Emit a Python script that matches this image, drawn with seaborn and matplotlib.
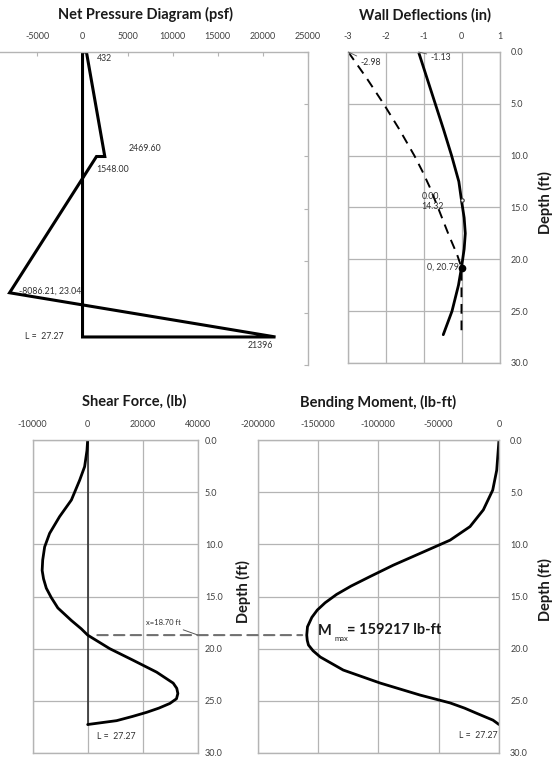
import matplotlib
matplotlib.use("Agg")
import matplotlib.pyplot as plt
from matplotlib.patches import ConnectionPatch
import seaborn as sns

# ---- net pressure diagram (psf vs depth ft) ----
pressure_psf = [0, 432, 2469.60, 1548.00, -8086.21, 21396, 0, 0]
pressure_depth = [0, 0, 10, 10, 23.04, 27.27, 27.27, 0]
pressure_ticks = [-5000, 0, 5000, 10000, 15000, 20000, 25000]

# ---- wall deflections (in) ----
defl_depth = [0, 2.5, 5, 7.5, 10, 12.5, 14.32, 16, 17.5, 19, 20.79, 22.5, 25, 27.27]
defl_in = [-1.13, -0.91, -0.69, -0.47, -0.26, -0.07, 0.0, 0.07, 0.10, 0.07, 0.0, -0.08, -0.25, -0.48]
defl2_depth = [0, 2.5, 5, 7.5, 10, 11.5, 13, 15, 17.7, 19.5, 20.79, 24, 27.27]
defl2_in = [-2.98, -2.50, -2.05, -1.63, -1.24, -1.03, -0.84, -0.62, -0.33, -0.12, 0.0, 0.0, 0.0]
defl_ticks = [-3, -2, -1, 0, 1]

# ---- shear force (lb) ----
shear_depth = [0, 1, 2.55, 3.85, 5.75, 7.35, 8.95, 10.25, 11.5, 12.5, 13.3, 14.2, 15.1, 16.1,
               17.3, 18.1, 18.7, 20.0, 21.1, 22.25, 23.3, 23.8, 24.3, 24.8, 25.25, 25.7,
               26.1, 26.5, 26.9, 27.27]
shear_lb = [0, -250, -1100, -2900, -5900, -10200, -13800, -15600, -16300, -16500, -16000,
            -15000, -13200, -10800, -5900, -2300, 0, 8000, 16400, 25000, 31000, 32300, 32700,
            32200, 29800, 25800, 21400, 16200, 10500, 0]
shear_ticks = [-20000, 0, 20000, 40000]
shear_ticklabels = ["-10000", "0", "20000", "40000"]

# ---- bending moment (lb-ft) ----
moment_depth = [0, 2.9, 4.8, 6.7, 8.3, 9.6, 10.85, 12.0, 13.1, 14.0, 14.8, 15.6, 16.3, 17.0,
                17.9, 18.7, 19.2, 19.65, 20.2, 20.8, 22.05, 23.3, 24.45, 25.2, 25.7, 26.2,
                26.85, 27.27]
moment_lbft = [0, -1900, -5200, -13000, -24000, -40500, -65000, -87600, -107000, -122500,
               -134500, -144000, -150500, -155000, -158600, -159217, -158800, -157800,
               -154000, -148000, -129000, -98300, -65300, -40500, -28500, -18400, -5000, 0]
moment_ticks = [-200000, -150000, -100000, -50000, 0]

wall_length = 27.27
x_zero_shear = 18.70
m_max = 159217
depth_ticks = [0, 5, 10, 15, 20, 25, 30]

sns.set_theme(style="white")
plt.rcParams["font.family"] = ["Lato", "DejaVu Sans"]

W, H = 555, 758
fig = plt.figure(figsize=(W / 100, H / 100), dpi=100)


def box(l, r, t, b):
    return [l / W, 1 - b / H, (r - l) / W, (b - t) / H]


def ptxt(x, y, s, **kw):
    fig.text(x / W, 1 - y / H, s, **kw)


TICK_C = "#404040"
GRID_C = "#b4b4b4"
LINE_KW = dict(color="black", sort=False, estimator=None, legend=False,
               solid_joinstyle="round", solid_capstyle="round")

# ================= Net pressure =================
ax_p = fig.add_axes(box(0, 308, 52, 365.5))
ax_p.set_facecolor("white")
sns.lineplot(x=pressure_psf, y=pressure_depth, ax=ax_p, linewidth=2.2, color="black",
             sort=False, estimator=None, legend=False, solid_joinstyle="miter")
ax_p.set_xlim(-9150, 25000)
ax_p.set_ylim(30, 0)
ax_p.xaxis.tick_top()
ax_p.set_xticks(pressure_ticks)
ax_p.set_xticklabels([str(t) for t in pressure_ticks])
ax_p.yaxis.tick_right()
ax_p.set_yticks(depth_ticks)
ax_p.set_yticklabels([])
ax_p.tick_params(axis="x", direction="in", length=3, width=0.8, color=GRID_C,
                 pad=8, labelsize=6.5, labelcolor=TICK_C)
ax_p.tick_params(axis="y", direction="in", length=3, width=0.8, color=GRID_C)
for s in ["left", "bottom"]:
    ax_p.spines[s].set_visible(False)
for s in ["top", "right"]:
    ax_p.spines[s].set_color(GRID_C)
    ax_p.spines[s].set_linewidth(1.0)
ax_p.set_xlabel("")
ax_p.set_ylabel("")
lab = dict(fontsize=6.3, color="#303030", va="center")
ax_p.text(1600, 0.6, "432", ha="left", **lab)
ax_p.text(5150, 9.2, "2469.60", ha="left", **lab)
ax_p.text(1500, 11.2, "1548.00", ha="left", **lab)
ax_p.text(-7040, 22.9, "-8086.21, 23.04", ha="left", **lab)
ax_p.text(-6375, wall_length, "L =  27.27", ha="left", **lab)
ax_p.text(18350, 28.1, "21396", ha="left", **lab)

# ================= Wall deflections =================
ax_d = fig.add_axes(box(347.5, 499.5, 52, 363))
sns.lineplot(x=defl2_in, y=defl2_depth, ax=ax_d, linewidth=1.4,
             linestyle=(0, (5, 3.5)), color="black", sort=False, estimator=None,
             legend=False)
sns.lineplot(x=defl_in, y=defl_depth, ax=ax_d, linewidth=2.0, **LINE_KW)
ax_d.plot([0], [14.32], marker="o", ms=2.5, color="#333333", mfc="white", mew=0.8)
ax_d.plot([0], [20.79], marker="o", ms=4.5, color="black")
ax_d.set_xlim(-3, 1)
ax_d.set_ylim(30, 0)
ax_d.xaxis.tick_top()
ax_d.set_xticks(defl_ticks)
ax_d.set_xticklabels([str(t) for t in defl_ticks])
ax_d.yaxis.tick_right()
ax_d.set_yticks(depth_ticks)
ax_d.set_yticklabels([f"{t:.1f}" for t in depth_ticks])
ax_d.tick_params(axis="x", length=0, pad=8, labelsize=6.5, labelcolor=TICK_C)
ax_d.tick_params(axis="y", length=0, pad=8, labelsize=6.5, labelcolor=TICK_C)
ax_d.grid(True, color=GRID_C, linewidth=0.9)
for s in ax_d.spines.values():
    s.set_color(GRID_C)
    s.set_linewidth(1.0)
ax_d.set_xlabel("")
ax_d.set_ylabel("")
ax_d.annotate("-1.13", xy=(-1.13, 0), xytext=(-0.83, 0.5), fontsize=6.3, color="#303030",
              va="center", ha="left",
              arrowprops=dict(arrowstyle="-", color="#555555", lw=0.6, shrinkA=0, shrinkB=0))
ax_d.annotate("-2.98", xy=(-2.98, 0), xytext=(-2.67, 1.0), fontsize=6.3, color="#303030",
              va="center", ha="left",
              arrowprops=dict(arrowstyle="-", color="#555555", lw=0.6, shrinkA=0, shrinkB=0))
ax_d.text(-1.05, 14.4, "0.00,\n14.32", fontsize=6.3, color="#303030", va="center",
          ha="left", linespacing=1.1)
ax_d.text(-0.08, 20.75, "0, 20.79", fontsize=6.3, color="#303030", va="center", ha="right")

# ================= Shear force =================
ax_s = fig.add_axes(box(32.5, 198, 440, 753))
sns.lineplot(x=[0, 0], y=[0, wall_length], ax=ax_s, linewidth=1.2, color="#303030",
             sort=False, estimator=None, legend=False)
sns.lineplot(x=shear_lb, y=shear_depth, ax=ax_s, linewidth=2.0, **LINE_KW)
ax_s.set_xlim(-20000, 40000)
ax_s.set_ylim(30, 0)
ax_s.xaxis.tick_top()
ax_s.set_xticks(shear_ticks)
ax_s.set_xticklabels(shear_ticklabels)
ax_s.yaxis.tick_right()
ax_s.set_yticks(depth_ticks)
ax_s.set_yticklabels([f"{t:.1f}" for t in depth_ticks])
ax_s.tick_params(axis="x", length=0, pad=8, labelsize=6.5, labelcolor=TICK_C)
ax_s.tick_params(axis="y", length=0, pad=5, labelsize=6.5, labelcolor=TICK_C)
ax_s.grid(True, color=GRID_C, linewidth=0.9)
for s in ax_s.spines.values():
    s.set_color(GRID_C)
    s.set_linewidth(1.0)
ax_s.set_xlabel("")
ax_s.set_ylabel("")
ax_s.text(3270, 28.4, "L =  27.27", fontsize=6.3, color="#303030", va="center", ha="left")
ax_s.annotate("x=18.70 ft", xy=(40000, x_zero_shear), xytext=(27300, 17.5),
              fontsize=5.5, color="#303030", va="center", ha="center",
              arrowprops=dict(arrowstyle="-", color="#555555", lw=0.7, shrinkA=1, shrinkB=0))

# ================= Bending moment =================
ax_m = fig.add_axes(box(257.5, 499, 440, 753))
sns.lineplot(x=moment_lbft, y=moment_depth, ax=ax_m, linewidth=2.0, **LINE_KW)
ax_m.set_xlim(-200000, 0)
ax_m.set_ylim(30, 0)
ax_m.xaxis.tick_top()
ax_m.set_xticks(moment_ticks)
ax_m.set_xticklabels([str(t) for t in moment_ticks])
ax_m.yaxis.tick_right()
ax_m.set_yticks(depth_ticks)
ax_m.set_yticklabels([f"{t:.1f}" for t in depth_ticks])
ax_m.tick_params(axis="x", length=0, pad=8, labelsize=6.5, labelcolor=TICK_C)
ax_m.tick_params(axis="y", length=0, pad=8, labelsize=6.5, labelcolor=TICK_C)
ax_m.grid(True, color=GRID_C, linewidth=0.9)
for s in ax_m.spines.values():
    s.set_color(GRID_C)
    s.set_linewidth(1.0)
ax_m.set_xlabel("")
ax_m.set_ylabel("")
ax_m.text(-1500, 28.3, "L =  27.27", fontsize=6.3, color="#303030", va="center", ha="right")
ax_m.annotate("M", xy=(-150000, x_zero_shear), xytext=(0, 3), textcoords="offset points",
              fontsize=10.5, fontweight="bold", color="#1a1a1a", va="center", ha="left")
ax_m.annotate("max", xy=(-150000, x_zero_shear), xytext=(12, -2.5),
              textcoords="offset points", fontsize=5.5, color="#1a1a1a", va="center", ha="left")
ax_m.annotate(f"= {m_max} lb-ft", xy=(-150000, x_zero_shear), xytext=(21, 3.5),
              textcoords="offset points", fontsize=10.5, fontweight="bold", color="#1a1a1a",
              va="center", ha="left")

# dashed line at the point of zero shear, spanning into the moment panel
con = ConnectionPatch(xyA=(3500, x_zero_shear), coordsA=ax_s.transData,
                      xyB=(-163000, x_zero_shear), coordsB=ax_m.transData,
                      color="#707070", linewidth=1.5, linestyle=(0, (5, 3)))
fig.add_artist(con)

# ================= titles and depth labels =================
title_kw = dict(fontsize=10.5, fontweight="bold", color="#1a1a1a", ha="center", va="center")
ptxt(145, 14, "Net Pressure Diagram (psf)", **title_kw)
ptxt(425, 15, "Wall Deflections (in)", **title_kw)
ptxt(134, 401, "Shear Force, (lb)", **title_kw)
ptxt(378, 402, "Bending Moment, (lb-ft)", **title_kw)
depth_kw = dict(fontsize=10.5, fontweight="bold", color="#1a1a1a", ha="center", va="center",
                rotation=90)
ptxt(545, 203, "Depth (ft)", **depth_kw)
ptxt(243, 592, "Depth (ft)", **depth_kw)
ptxt(545, 590, "Depth (ft)", **depth_kw)

fig.savefig("out.png", dpi=100, facecolor="white")
